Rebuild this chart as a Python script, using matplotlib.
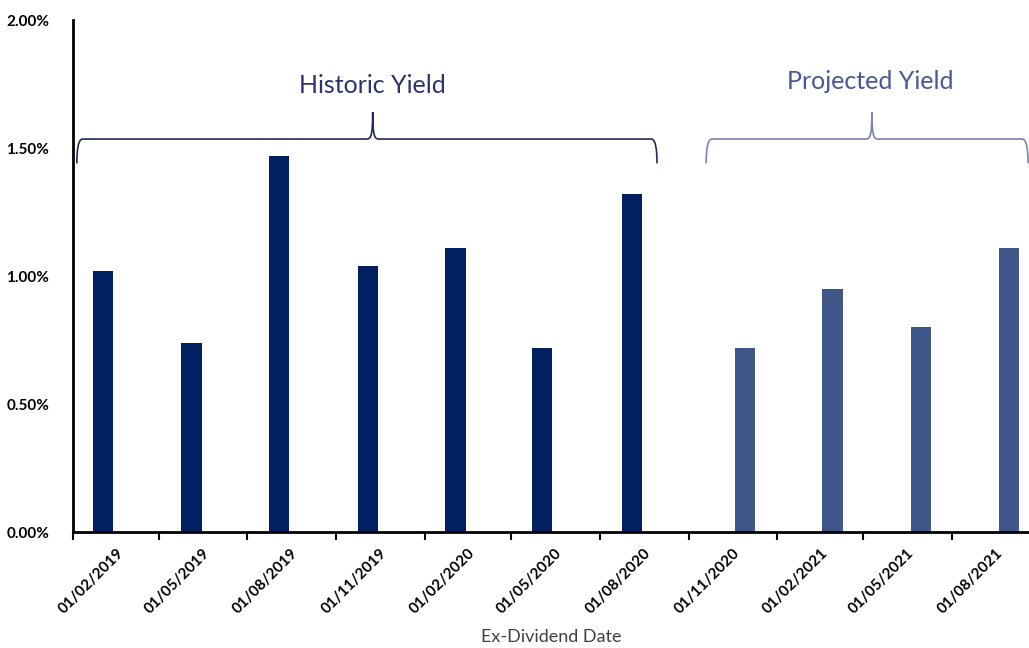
import matplotlib
matplotlib.use('Agg')
import matplotlib.pyplot as plt
import matplotlib.dates as mdates
from matplotlib.path import Path
from matplotlib.patches import PathPatch
import pandas as pd
from datetime import timedelta

# Ex-dividend dates and yields (%)
hist_dates = ['2019-03-04', '2019-06-04', '2019-09-03', '2019-12-04',
              '2020-03-04', '2020-06-02', '2020-09-03']
hist_yield = [1.02, 0.74, 1.47, 1.04, 1.11, 0.72, 1.32]

proj_dates = ['2020-12-29', '2021-03-30', '2021-06-30', '2021-09-29']
proj_yield = [0.72, 0.95, 0.80, 1.11]

tick_dates = ['2019-02-01', '2019-05-01', '2019-08-01', '2019-11-01',
              '2020-02-01', '2020-05-01', '2020-08-01', '2020-11-01',
              '2021-02-01', '2021-05-01', '2021-08-01']

HIST_COL = '#002060'
PROJ_COL = '#3F5788'
FONT = 'Lato'

plt.rcParams['font.family'] = FONT

hd = pd.to_datetime(hist_dates)
pdt = pd.to_datetime(proj_dates)
td = pd.to_datetime(tick_dates)

fig = plt.figure(figsize=(10.29, 6.48), dpi=100)
ax = fig.add_axes([73 / 1029, 116 / 648, 956 / 1029, 512 / 648])

bw = timedelta(days=21)
ax.bar(hd, hist_yield, width=bw, color=HIST_COL, zorder=2)
ax.bar(pdt, proj_yield, width=bw, color=PROJ_COL, zorder=2)

# quarter boundaries carry the tick marks, labels sit midway between them
ax.set_xticks(td)
ax.set_xticklabels([])
ax.tick_params(axis='x', which='major', length=6, width=1.5, color='black')
mid = td + timedelta(days=45)
ax.set_xticks(mid, minor=True)
ax.set_xticklabels([d.strftime('%d/%m/%Y') for d in td], minor=True,
                   rotation=45, ha='right', va='top', rotation_mode='anchor',
                   fontsize=11, fontweight='bold')
ax.tick_params(axis='x', which='minor', length=0, pad=10)

ax.set_xlim(pd.Timestamp('2019-02-01'), pd.Timestamp('2021-10-20'))
ax.set_ylim(0, 2.0)

ax.set_yticks([0, 0.5, 1.0, 1.5, 2.0])
ax.set_yticklabels([f'{v:.2f}%' for v in [0, 0.5, 1.0, 1.5, 2.0]],
                   fontsize=11, fontweight='bold')
ax.tick_params(axis='y', length=0, pad=17)

for s in ['top', 'right']:
    ax.spines[s].set_visible(False)
ax.spines['left'].set_linewidth(2)
ax.spines['bottom'].set_linewidth(2)

ax.set_xlabel('Ex-Dividend Date', fontsize=13, color='#404040', labelpad=9)


def brace(x0, xm, x1, color, y_line=1.535, y_tip=1.64, y_end=1.44):
    x0, xm, x1 = (mdates.date2num(pd.Timestamp(v)) for v in (x0, xm, x1))
    r = 6
    verts = [(x0, y_end), (x0, y_line - 0.05), (x0 + 1, y_line), (x0 + r, y_line),
             (xm - r, y_line),
             (xm - 1.5, y_line), (xm, y_line + 0.02), (xm, y_tip),
             (xm, y_line + 0.02), (xm + 1.5, y_line), (xm + r, y_line),
             (x1 - r, y_line),
             (x1 - 1, y_line), (x1, y_line - 0.05), (x1, y_end)]
    codes = [Path.MOVETO, Path.CURVE4, Path.CURVE4, Path.CURVE4,
             Path.LINETO,
             Path.CURVE4, Path.CURVE4, Path.CURVE4,
             Path.CURVE4, Path.CURVE4, Path.CURVE4,
             Path.LINETO,
             Path.CURVE4, Path.CURVE4, Path.CURVE4]
    ax.add_patch(PathPatch(Path(verts, codes), fill=False, edgecolor=color,
                           lw=1.2, clip_on=False, zorder=3))


brace('2019-02-05', '2019-12-09', '2020-09-29', '#1F2A5C')
brace('2020-11-19', '2021-05-10', '2021-10-19', '#7A84AC')

ax.text(pd.Timestamp('2019-12-09'), 1.745, 'Historic Yield', ha='center',
        va='center', fontsize=18, color='#2B3370')
ax.text(pd.Timestamp('2021-05-08'), 1.76, 'Projected Yield', ha='center',
        va='center', fontsize=18, color='#4A5794')

fig.savefig('out.png', dpi=100, facecolor='white')
